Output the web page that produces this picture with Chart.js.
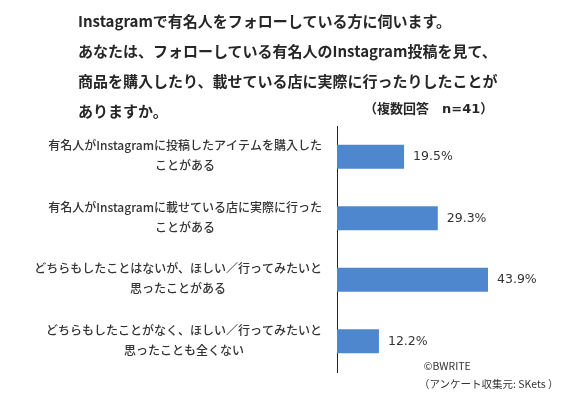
<!DOCTYPE html>
<html>
<head>
<meta charset="utf-8">
<script src="https://cdn.jsdelivr.net/npm/chart.js@4"></script>
<style>
  body { margin: 0; background: #fff; }
  #wrap { position: relative; width: 568px; height: 398px; }
  #title {
    position: absolute; left: 78px; top: 6px;
    font: bold 15px "Noto Sans CJK JP", sans-serif; line-height: 30px; color: #262626;
    white-space: nowrap;
  }
  #note {
    position: absolute; left: 364px; top: 96px;
    font: bold 13px "Noto Sans CJK JP", sans-serif; line-height: 24px; color: #262626;
    white-space: pre;
  }
  #note span { font-family: "DejaVu Sans", sans-serif; }
  #credit {
    position: absolute; left: 419px; top: 357px;
    font: 10.5px "Noto Sans CJK JP", sans-serif; line-height: 18px; color: #333;
    white-space: pre;
  }
</style>
</head>
<body>
<div id="wrap">
  <canvas id="myChart" width="568" height="398"></canvas>
  <div id="title">Instagramで有名人をフォローしている方に伺います。<br>あなたは、フォローしている有名人のInstagram投稿を見て、<br>商品を購入したり、載せている店に実際に行ったりしたことが<br>ありますか。</div>
  <div id="note">（複数回答　<span>n=41</span>）</div>
  <div id="credit">  ©BWRITE<br>（アンケート収集元: SKets ）</div>
</div>
<script>
// answers (two lines each) and share of respondents, %
var categories = [
  ["有名人がInstagramに投稿したアイテムを購入した", "ことがある"],
  ["有名人がInstagramに載せている店に実際に行った", "ことがある"],
  ["どちらもしたことはないが、ほしい／行ってみたいと", "思ったことがある"],
  ["どちらもしたことがなく、ほしい／行ってみたいと", "思ったことも全くない"]
];
var values = [19.5, 29.3, 43.9, 12.2];

// value text at the end of each bar
var valueLabels = {
  id: 'valueLabels',
  afterDatasetsDraw: function(chart) {
    var ctx = chart.ctx;
    var meta = chart.getDatasetMeta(0);
    ctx.save();
    ctx.font = '12.5px "DejaVu Sans", sans-serif';
    ctx.fillStyle = '#333';
    ctx.textAlign = 'left';
    ctx.textBaseline = 'middle';
    meta.data.forEach(function(bar, i) {
      ctx.fillText(values[i].toFixed(1) + '%', bar.x + 9, bar.y);
    });
    ctx.restore();
  }
};

// category text: each block right-aligned to the axis, lines centred within the block
var categoryLabels = {
  id: 'categoryLabels',
  afterDraw: function(chart) {
    var ctx = chart.ctx;
    var scale = chart.scales.y;
    var right = chart.chartArea.left - 15;
    ctx.save();
    ctx.font = '500 12px "Noto Sans CJK JP", sans-serif';
    ctx.fillStyle = '#333';
    ctx.textAlign = 'center';
    ctx.textBaseline = 'middle';
    categories.forEach(function(lines, i) {
      var w = Math.max.apply(null, lines.map(function(l) { return ctx.measureText(l).width; }));
      var cx = right - w / 2;
      var y = scale.getPixelForValue(i) - 1;
      lines.forEach(function(l, j) {
        ctx.fillText(l, cx, y + (j - (lines.length - 1) / 2) * 20);
      });
    });
    ctx.restore();
  }
};

var ctx = document.getElementById("myChart");

var myBarChart = new Chart(ctx, {
  type: 'bar',
  data: {
    labels: categories,
    datasets: [{
      data: values,
      backgroundColor: '#4f87cf',
      borderWidth: 0,
      barPercentage: 0.49,
      categoryPercentage: 0.8
    }]
  },
  options: {
    indexAxis: 'y',
    responsive: false,
    animation: false,
    layout: { padding: { left: 37, right: 59, top: 126, bottom: 26 } },
    plugins: {
      legend: { display: false },
      tooltip: { enabled: false }
    },
    scales: {
      x: { display: false, min: 0, max: 50 },
      y: {
        afterFit: function(scale) { scale.width = 300; },
        grid: { display: false, drawTicks: false },
        border: { display: true, color: '#222', width: 1 },
        ticks: { display: false }
      }
    }
  },
  plugins: [valueLabels, categoryLabels]
});
</script>
</body>
</html>
